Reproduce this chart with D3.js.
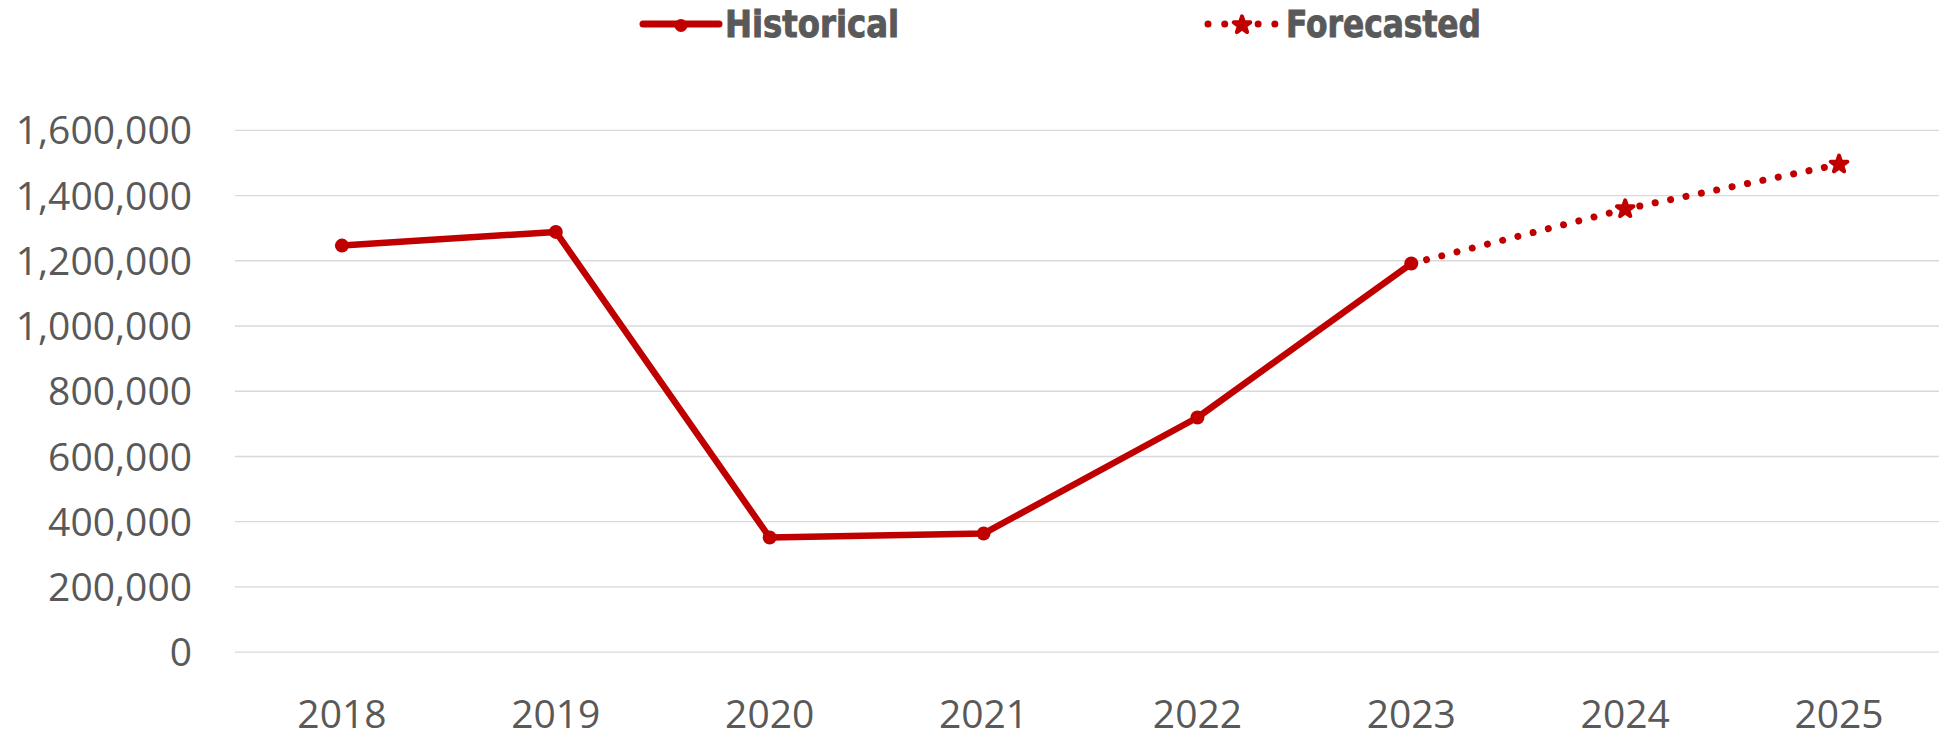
<!DOCTYPE html>
<html>
<head>
<meta charset="utf-8">
<script src="https://cdn.jsdelivr.net/npm/d3@7"></script>
<style>
  html, body { margin: 0; padding: 0; background: #fff; }
  svg { display: block; }
</style>
</head>
<body>
<svg id="chart" width="1939" height="735"></svg>
<script>
const years = ['2018', '2019', '2020', '2021', '2022', '2023', '2024', '2025'];
const histYears = ['2018', '2019', '2020', '2021', '2022', '2023'];
const histValues = [1245000, 1287000, 350000, 362000, 718000, 1190000];
const foreYears = ['2023', '2024', '2025'];
const foreValues = [1190000, 1357000, 1494000];
const yTicks = [0, 200000, 400000, 600000, 800000, 1000000, 1200000, 1400000, 1600000];
const seriesNames = ['Historical', 'Forecasted'];

const red = '#c00000';
const grey = '#595959';

const svg = d3.select('#chart');

const x = d3.scaleBand()
  .domain(years)
  .range([235, 1946]);

const y = d3.scaleLinear()
  .domain([0, 1600000])
  .range([651.7, 129.8]);

const cx = (d) => x(d) + x.bandwidth() / 2;

// gridlines + y labels
const yAxis = d3.axisLeft(y)
  .tickValues(yTicks)
  .tickSize(-(1939 - 235))
  .tickPadding(43)
  .tickFormat(d3.format(','));

svg.append('g')
  .attr('transform', 'translate(235,0)')
  .call(yAxis)
  .call((g) => g.select('.domain').remove())
  .call((g) => g.selectAll('.tick line')
    .attr('stroke', '#d9d9d9')
    .attr('stroke-width', 1.3))
  .call((g) => g.selectAll('.tick text')
    .attr('fill', grey)
    .attr('font-family', "'Open Sans', sans-serif")
    .attr('font-size', 39)
    .attr('dy', '0.36em'));

// x labels
const xAxis = d3.axisBottom(x)
  .tickSize(0)
  .tickPadding(0);

svg.append('g')
  .attr('transform', 'translate(0,651.7)')
  .call(xAxis)
  .call((g) => g.select('.domain').remove())
  .call((g) => g.selectAll('.tick text')
    .attr('fill', grey)
    .attr('font-family', "'Open Sans', sans-serif")
    .attr('font-size', 39)
    .attr('dy', null)
    .attr('y', 76));

const histData = histYears.map((d, i) => ({ year: d, value: histValues[i] }));
const foreData = foreYears.map((d, i) => ({ year: d, value: foreValues[i] }));

const line = d3.line()
  .x((d) => cx(d.year))
  .y((d) => y(d.value));

// forecast (dotted)
svg.append('path')
  .datum(foreData)
  .attr('d', line)
  .attr('fill', 'none')
  .attr('stroke', red)
  .attr('stroke-width', 7)
  .attr('stroke-linecap', 'round')
  .attr('stroke-dasharray', '0.01 15.7');

// historical
svg.append('path')
  .datum(histData)
  .attr('d', line)
  .attr('fill', 'none')
  .attr('stroke', red)
  .attr('stroke-width', 6.5)
  .attr('stroke-linejoin', 'round');

svg.selectAll('circle.hist')
  .data(histData)
  .enter()
    .append('circle')
    .attr('class', 'hist')
    .attr('cx', (d) => cx(d.year))
    .attr('cy', (d) => y(d.value))
    .attr('r', 7)
    .attr('fill', red);

const star = d3.symbol().type(d3.symbolStar).size(85);

svg.selectAll('path.fore')
  .data(foreData.slice(1))
  .enter()
    .append('path')
    .attr('class', 'fore')
    .attr('d', star)
    .attr('transform', (d) => `translate(${cx(d.year)},${y(d.value)})`)
    .attr('fill', red)
    .attr('stroke', red)
    .attr('stroke-width', 4)
    .attr('stroke-linejoin', 'round');

// legend
const legend = svg.append('g');
const legendX = [643, 1204];
const textLen = [174, 195];

seriesNames.forEach((name, i) => {
  const g = legend.append('g').attr('transform', `translate(${legendX[i]},24)`);
  const l = g.append('line')
    .attr('x1', 0).attr('x2', 76)
    .attr('y1', 0).attr('y2', 0)
    .attr('stroke', red)
    .attr('stroke-width', 7)
    .attr('stroke-linecap', 'round');
  if (i === 0) {
    g.append('circle').attr('cx', 38).attr('cy', 1.5).attr('r', 6.5).attr('fill', red);
  } else {
    l.attr('stroke-dasharray', '0.01 16.7').attr('x1', 4);
    g.append('path')
      .attr('d', star)
      .attr('transform', 'translate(38,1)')
      .attr('fill', red)
      .attr('stroke', red)
      .attr('stroke-width', 4)
      .attr('stroke-linejoin', 'round');
  }
  g.append('text')
    .attr('x', 82)
    .attr('y', 13.3)
    .attr('fill', grey)
    .attr('stroke', grey)
    .attr('stroke-width', 0.9)
    .attr('font-family', "'Liberation Sans Narrow', 'DejaVu Sans Condensed', 'Liberation Sans', sans-serif")
    .attr('font-weight', 'bold')
    .attr('font-size', 38)
    .attr('textLength', textLen[i])
    .attr('lengthAdjust', 'spacingAndGlyphs')
    .text(name);
});
</script>
</body>
</html>
